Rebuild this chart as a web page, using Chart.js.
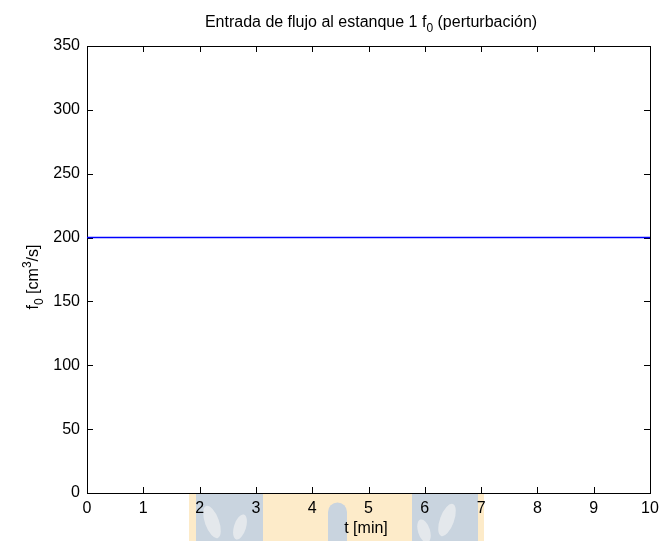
<!DOCTYPE html>
<html>
<head>
<meta charset="utf-8">
<script src="https://cdn.jsdelivr.net/npm/chart.js@4"></script>
<style>
  html, body { margin: 0; padding: 0; background: #fff; }
  #wrap { width: 660px; height: 541px; }
</style>
</head>
<body>
<div id="wrap"><canvas id="myChart" width="660" height="541"></canvas></div>
<script>
// data
const tValues = [0, 10]
const f0Values = [200, 200]
const xTicks = [0, 1, 2, 3, 4, 5, 6, 7, 8, 9, 10]
const yTicks = [0, 50, 100, 150, 200, 250, 300, 350]
const xLabel = 't [min]'

const FONT = '"Liberation Sans", Arial, sans-serif'
const ctx = document.getElementById('myChart')

// faded logo behind the x label (watermark in the scan)
const watermark = {
  id: 'watermark',
  beforeDraw(chart) {
    const c = chart.ctx
    c.save()
    c.fillStyle = '#fdebc9'
    c.fillRect(189, 494, 295, 47)
    c.fillStyle = '#c9d4df'
    c.fillRect(196, 494, 67, 47)
    c.fillRect(412, 494, 66, 47)
    c.beginPath()
    c.moveTo(328, 541)
    c.lineTo(328, 512)
    c.arc(337.5, 512, 9.5, Math.PI, 0)
    c.lineTo(347, 541)
    c.fill()
    c.fillStyle = '#e4e8ec'
    const leaves = [
      [212, 522, 7, 17, -0.35],
      [240, 527, 6, 13, 0.3],
      [447, 520, 7, 17, 0.35],
      [424, 531, 6, 12, -0.3],
    ]
    leaves.forEach((l) => {
      c.beginPath()
      c.ellipse(l[0], l[1], l[2], l[3], l[4], 0, Math.PI * 2)
      c.fill()
    })
    c.restore()
  },
}

// draw text made of pieces: [text, size, baseline shift]
const drawPieces = function (c, parts, x, y) {
  parts.forEach((p) => {
    c.font = p[1] + 'px ' + FONT
    c.fillText(p[0], x, y + p[2])
    x += c.measureText(p[0]).width
  })
}
const piecesWidth = function (c, parts) {
  let total = 0
  parts.forEach((p) => {
    c.font = p[1] + 'px ' + FONT
    total += c.measureText(p[0]).width
  })
  return total
}

// box, inward ticks on all four sides, title and labels with sub/superscripts
const matlabAxes = {
  id: 'matlabAxes',
  beforeDatasetsDraw(chart) {
    const c = chart.ctx
    const a = chart.chartArea
    const xs = chart.scales.x
    const ys = chart.scales.y
    const len = 6
    c.save()
    c.strokeStyle = '#000'
    c.lineWidth = 1
    c.strokeRect(Math.round(a.left) + 0.5, Math.round(a.top) + 0.5,
      Math.round(a.right - a.left), Math.round(a.bottom - a.top))
    c.beginPath()
    xTicks.forEach((v) => {
      const px = Math.round(xs.getPixelForValue(v)) + 0.5
      c.moveTo(px, a.bottom)
      c.lineTo(px, a.bottom - len)
      c.moveTo(px, a.top)
      c.lineTo(px, a.top + len)
    })
    yTicks.forEach((v) => {
      const py = Math.round(ys.getPixelForValue(v)) + 0.5
      c.moveTo(a.left, py)
      c.lineTo(a.left + len, py)
      c.moveTo(a.right, py)
      c.lineTo(a.right - len, py)
    })
    c.stroke()

    c.fillStyle = '#000'
    c.textBaseline = 'alphabetic'
    // title
    const title = [
      ['Entrada de flujo al estanque 1 f', 16, 0],
      ['0', 12, 5],
      [' (perturbación)', 16, 0],
    ]
    drawPieces(c, title, 371 - piecesWidth(c, title) / 2, 27)

    // x label
    c.font = '16px ' + FONT
    c.textAlign = 'center'
    c.fillText(xLabel, 366, 533)
    c.textAlign = 'left'

    // y label, rotated
    const ylab = [
      ['f', 16, 0],
      ['0', 12, 5],
      [' [cm', 16, 0],
      ['3', 12, -7],
      ['/s]', 16, 0],
    ]
    c.translate(38, 277)
    c.rotate(-Math.PI / 2)
    drawPieces(c, ylab, -piecesWidth(c, ylab) / 2, 0)
    c.restore()
  },
}

new Chart(ctx, {
  type: 'line',
  data: {
    datasets: [
      {
        data: tValues.map((t, i) => ({ x: t, y: f0Values[i] })),
        borderColor: '#0000ff',
        borderWidth: 1.4,
        pointRadius: 0,
        fill: false,
      },
    ],
  },
  options: {
    responsive: false,
    animation: false,
    layout: { padding: { top: 46, right: 10, left: 0, bottom: 0 } },
    plugins: {
      legend: { display: false },
      tooltip: { enabled: false },
    },
    scales: {
      x: {
        type: 'linear',
        min: 0,
        max: 10,
        afterBuildTicks: (scale) => {
          scale.ticks = xTicks.map((v) => ({ value: v }))
        },
        afterFit: (scale) => {
          scale.height = 48
          scale.paddingLeft = 0
          scale.paddingRight = 0
        },
        grid: { display: false, drawTicks: false },
        border: { display: false },
        ticks: {
          color: '#000',
          font: { family: FONT, size: 16 },
          padding: 6,
          maxRotation: 0,
        },
      },
      y: {
        min: 0,
        max: 350,
        afterBuildTicks: (scale) => {
          scale.ticks = yTicks.map((v) => ({ value: v }))
        },
        afterFit: (scale) => {
          scale.width = 87
          scale.paddingTop = 0
          scale.paddingBottom = 0
        },
        grid: { display: false, drawTicks: false },
        border: { display: false },
        ticks: {
          color: '#000',
          font: { family: FONT, size: 16 },
          padding: 7,
        },
      },
    },
  },
  plugins: [watermark, matlabAxes],
})
</script>
</body>
</html>
